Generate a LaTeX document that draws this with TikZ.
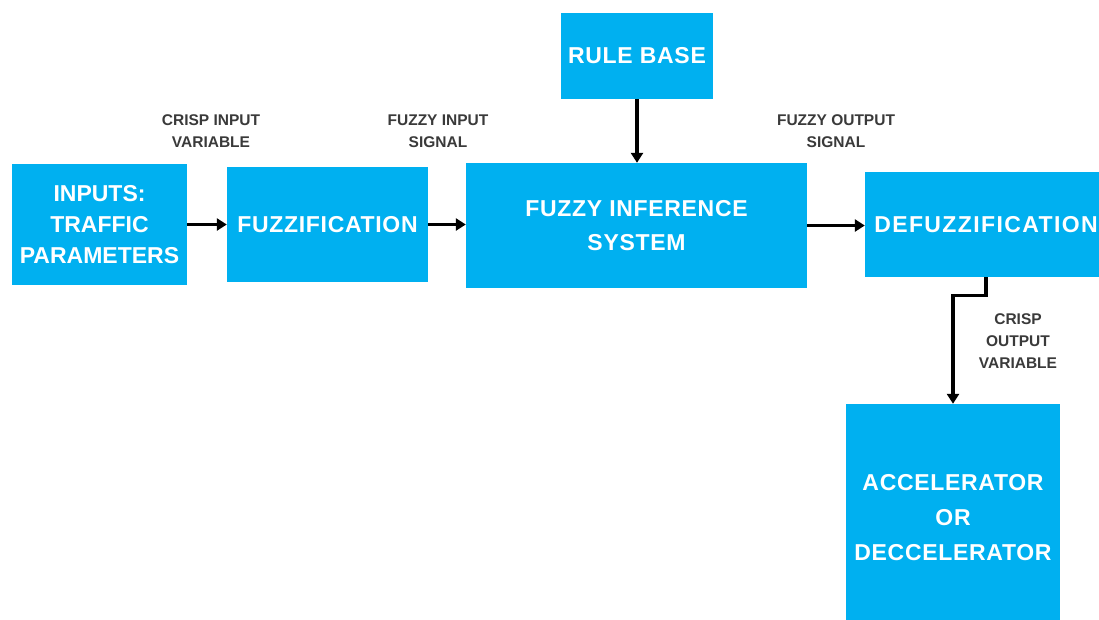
\documentclass[tikz,border=0pt]{standalone}
\usepackage{fontspec}
\setmainfont{Liberation Sans}
\usetikzlibrary{arrows.meta}
\definecolor{boxblue}{HTML}{00B0F0}
\definecolor{labelgray}{HTML}{3A3A3A}
\tikzset{
  blockbox/.style={fill=boxblue, draw=none, inner sep=0pt, align=center, text=white,
    font=\fontsize{23}{31}\selectfont\bfseries\addfontfeatures{LetterSpace=3}},
  sidelabel/.style={align=center, text=labelgray, inner sep=0pt,
    font=\fontsize{15.5}{22}\selectfont\bfseries},
  flow/.style={line width=3.2pt, -{Triangle[length=10pt,width=12pt]}}
}
\begin{document}
\begin{tikzpicture}[x=1pt,y=-1pt]
\useasboundingbox[fill=white] (0,0) rectangle (1099,619);
\node[blockbox, minimum width=175pt, minimum height=121pt, font=\fontsize{23}{31}\selectfont\bfseries] (inp) at (99.5,224.5) {INPUTS:\\TRAFFIC\\PARAMETERS};
\node[blockbox, minimum width=201pt, minimum height=115pt] (fuzz) at (327.5,224.5) {FUZZIFICATION};
\node[blockbox, minimum width=341pt, minimum height=125pt, font=\fontsize{23}{34}\selectfont\bfseries\addfontfeatures{LetterSpace=3}] (fis) at (636.5,225.5) {FUZZY INFERENCE\\SYSTEM};
\node[blockbox, minimum width=152pt, minimum height=86pt] (rule) at (637,56) {RULE BASE};
\node[blockbox, minimum width=242pt, minimum height=105pt, font=\fontsize{23}{31}\selectfont\bfseries\addfontfeatures{LetterSpace=6}] (defuzz) at (986,224.5) {DEFUZZIFICATION};
\node[blockbox, minimum width=214pt, minimum height=228pt, font=\fontsize{23}{35}\selectfont\bfseries\addfontfeatures{LetterSpace=3}] (acc) at (953,518) {ACCELERATOR\\OR\\DECCELERATOR};

\node[sidelabel] (l1) at (211,131) {CRISP INPUT\\VARIABLE};
\node[sidelabel] (l2) at (438,131) {FUZZY INPUT\\SIGNAL};
\node[sidelabel] (l3) at (836,131) {FUZZY OUTPUT\\SIGNAL};
\node[sidelabel] (l4) at (1018,341) {CRISP\\OUTPUT\\VARIABLE};

\draw[flow] (inp.east) -- (fuzz.west);
\draw[flow] (fuzz.east) -- (fuzz.east -| fis.west);
\draw[flow] (fis.east) -- (fis.east -| defuzz.west);
\draw[flow] (rule.south) -- (rule.south |- fis.north);
\draw[flow, line join=miter] (defuzz.south) -- ++(0,18) -| (acc.north);
\end{tikzpicture}
\end{document}
